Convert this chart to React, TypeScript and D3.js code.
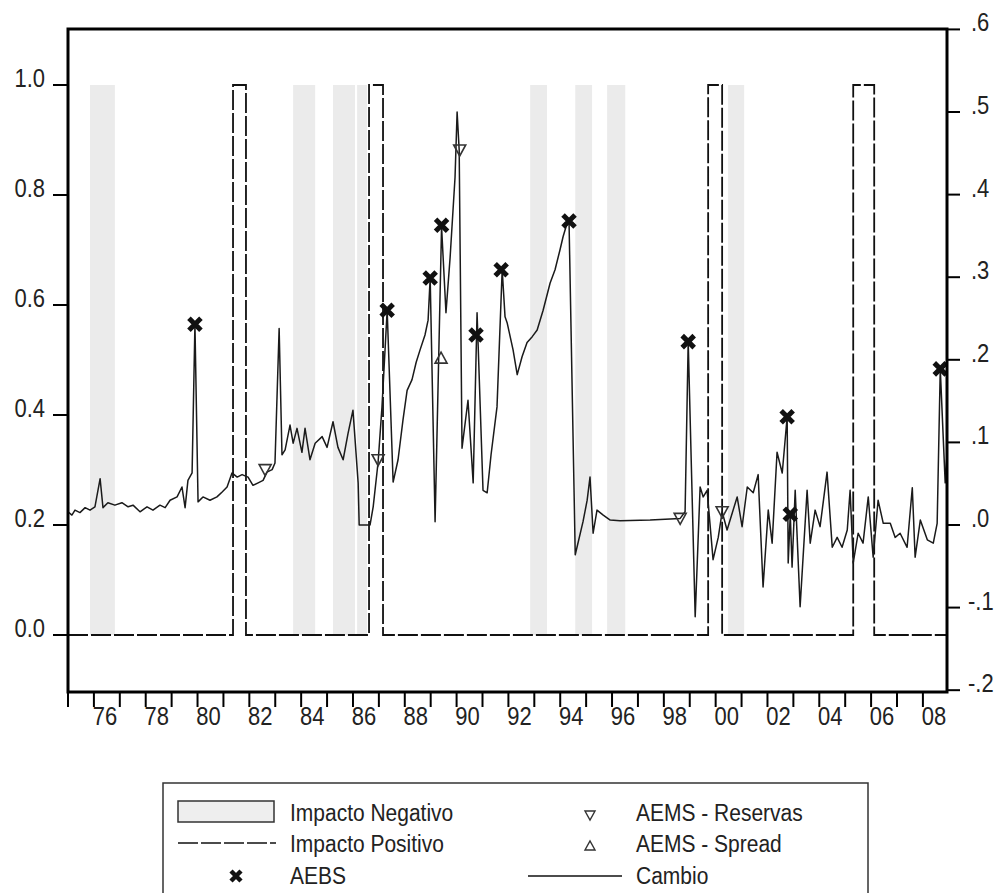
import React, {useEffect, useRef} from 'react';
import * as d3 from 'd3';

// Cambio (right axis): [year, value]
const cambio: [number, number][] = [
    [1975.00, 0.016], [1975.15, 0.012], [1975.27, 0.018], [1975.46, 0.015], [1975.66, 0.021], [1975.85, 0.018],
    [1976.04, 0.022], [1976.24, 0.056], [1976.35, 0.021], [1976.54, 0.027], [1976.81, 0.024], [1977.08, 0.027],
    [1977.32, 0.022], [1977.51, 0.024], [1977.78, 0.016], [1978.05, 0.022], [1978.28, 0.018], [1978.55, 0.024],
    [1978.75, 0.021], [1978.94, 0.030], [1979.21, 0.034], [1979.40, 0.046], [1979.52, 0.021], [1979.63, 0.054],
    [1979.79, 0.063], [1979.90, 0.243], [1980.02, 0.028], [1980.21, 0.034], [1980.48, 0.030], [1980.75, 0.034],
    [1980.95, 0.040], [1981.14, 0.046], [1981.33, 0.063], [1981.53, 0.058], [1981.72, 0.061], [1981.95, 0.058],
    [1982.14, 0.048], [1982.34, 0.051], [1982.53, 0.054], [1982.68, 0.064], [1982.88, 0.067], [1982.99, 0.075],
    [1983.15, 0.238], [1983.26, 0.085], [1983.38, 0.091], [1983.57, 0.121], [1983.69, 0.099], [1983.84, 0.117],
    [1984.03, 0.088], [1984.15, 0.117], [1984.34, 0.079], [1984.54, 0.099], [1984.81, 0.107], [1985.00, 0.094],
    [1985.23, 0.125], [1985.42, 0.094], [1985.62, 0.079], [1985.81, 0.111], [1986.00, 0.139], [1986.20, 0.051],
    [1986.24, 0.000], [1986.66, 0.000], [1986.78, 0.022], [1986.97, 0.076], [1987.12, 0.143], [1987.32, 0.260],
    [1987.55, 0.052], [1987.74, 0.079], [1987.93, 0.127], [1988.09, 0.163], [1988.28, 0.176], [1988.44, 0.197],
    [1988.59, 0.212], [1988.78, 0.230], [1988.90, 0.248], [1988.98, 0.299], [1989.17, 0.004], [1989.42, 0.361],
    [1989.59, 0.257], [1989.75, 0.324], [1989.94, 0.421], [1990.02, 0.500], [1990.10, 0.454], [1990.21, 0.093],
    [1990.44, 0.151], [1990.64, 0.051], [1990.79, 0.257], [1991.02, 0.042], [1991.18, 0.039], [1991.33, 0.085],
    [1991.56, 0.143], [1991.76, 0.309], [1991.87, 0.252], [1991.95, 0.245], [1992.18, 0.212], [1992.34, 0.182],
    [1992.53, 0.204], [1992.72, 0.221], [1992.92, 0.228], [1993.11, 0.236], [1993.34, 0.260], [1993.61, 0.293],
    [1993.80, 0.309], [1993.99, 0.333], [1994.11, 0.349], [1994.27, 0.366], [1994.34, 0.368], [1994.58, -0.036],
    [1994.88, 0.004], [1995.04, 0.030], [1995.15, 0.058], [1995.27, -0.010], [1995.42, 0.018], [1995.66, 0.012],
    [1995.93, 0.006], [1996.31, 0.005], [1997.47, 0.006], [1998.63, 0.008], [1998.82, 0.016], [1998.94, 0.222],
    [1999.21, -0.111], [1999.40, 0.046], [1999.52, 0.034], [1999.67, 0.042], [1999.90, -0.042], [2000.10, -0.015],
    [2000.25, 0.016], [2000.44, -0.006], [2000.83, 0.034], [2001.02, -0.002], [2001.22, 0.046], [2001.45, 0.039],
    [2001.64, 0.061], [2001.83, -0.075], [2002.03, 0.018], [2002.18, -0.022], [2002.37, 0.088], [2002.57, 0.063],
    [2002.76, 0.131], [2002.80, -0.046], [2002.88, 0.013], [2002.95, -0.051], [2003.07, 0.042], [2003.26, -0.099],
    [2003.53, 0.042], [2003.65, -0.022], [2003.84, 0.018], [2004.03, -0.002], [2004.15, 0.027], [2004.30, 0.064],
    [2004.50, -0.027], [2004.69, -0.015], [2004.88, -0.027], [2005.08, -0.006], [2005.19, 0.042], [2005.31, -0.046],
    [2005.50, -0.010], [2005.69, -0.022], [2005.89, 0.034], [2006.08, -0.039], [2006.27, 0.030], [2006.47, 0.002],
    [2006.74, 0.002], [2006.93, -0.015], [2007.12, -0.010], [2007.39, -0.027], [2007.59, 0.045], [2007.70, -0.039],
    [2007.90, 0.006], [2008.17, -0.018], [2008.40, -0.022], [2008.55, 0.002], [2008.67, 0.189], [2008.86, 0.051],
    [2008.92, 0.080]
];

// markers (right axis)
const aebs: [number, number][] = [
    [1979.90, 0.243], [1987.32, 0.260], [1988.98, 0.299], [1989.42, 0.363], [1990.75, 0.230], [1991.72, 0.309],
    [1994.34, 0.368], [1998.94, 0.222], [2002.76, 0.131], [2002.88, 0.013], [2008.67, 0.189]
];
const reservas: [number, number][] = [
    [1982.61, 0.067], [1986.97, 0.079], [1990.12, 0.454], [1998.63, 0.008], [2000.25, 0.016]
];
const spread: [number, number][] = [[1989.40, 0.202]];

// shaded periods (Impacto Negativo) and dummy = 1 periods (Impacto Positivo)
const negativo: [number, number][] = [
    [1975.85, 1976.81], [1983.69, 1984.54], [1985.23, 1986.08], [1986.16, 1986.54],
    [1992.84, 1993.49], [1994.58, 1995.23], [1995.81, 1996.51], [2000.48, 2001.10]
];
const positivo: [number, number][] = [
    [1981.37, 1981.87], [1986.62, 1987.16], [1999.71, 2000.25], [2005.31, 2006.12]
];

const leftTicks = [0, 0.2, 0.4, 0.6, 0.8, 1.0];
const rightTicks = [-0.2, -0.1, 0, 0.1, 0.2, 0.3, 0.4, 0.5, 0.6];
const START = 1975, END = 2008.93;

const FONT = '"Liberation Sans", Arial, sans-serif';

const Chart = () => {
    const ref = useRef<SVGSVGElement>(null);
    useEffect(() => {
        const svg = d3.select(ref.current);
        svg.selectAll("*").remove();

        const L = 68, R = 947, T = 29, B = 692;
        const x = d3.scaleLinear().domain([START, END]).range([L, R]);
        const yL = d3.scaleLinear().domain([-0.1036, 1.1018]).range([B, T]);
        const yR = d3.scaleLinear().domain([-0.2022, 0.6005]).range([B, T]);

        svg.append("rect").attr("width", 1002).attr("height", 893).attr("fill", "#fff");

        // shaded bands
        svg.append("g").selectAll("rect")
            .data(negativo)
            .enter().append("rect")
            .attr("x", d => x(d[0]))
            .attr("width", d => x(d[1]) - x(d[0]))
            .attr("y", yL(1))
            .attr("height", yL(0) - yL(1))
            .attr("fill", "#ebebeb");

        // Impacto Positivo step line
        const steps: [number, number][] = [[START, 0]];
        positivo.forEach(([a, b]) => {
            steps.push([a, 0], [a, 1], [b, 1], [b, 0]);
        });
        steps.push([END, 0]);
        svg.append("path")
            .attr("d", d3.line<[number, number]>().x(d => x(d[0])).y(d => yL(d[1]))(steps))
            .attr("fill", "none")
            .attr("stroke", "#111")
            .attr("stroke-width", 1.8)
            .attr("stroke-dasharray", "20,3");

        // Cambio line
        svg.append("path")
            .attr("d", d3.line<[number, number]>().x(d => x(d[0])).y(d => yR(d[1]))(cambio))
            .attr("fill", "none")
            .attr("stroke", "#1a1a1a")
            .attr("stroke-width", 1.5)
            .attr("stroke-linejoin", "round");

        // markers
        const cross = "M-6,-6L6,6M-6,6L6,-6";
        svg.append("g").selectAll("path")
            .data(aebs)
            .enter().append("path")
            .attr("transform", d => `translate(${x(d[0])},${yR(d[1])})`)
            .attr("d", cross)
            .attr("stroke", "#111")
            .attr("stroke-width", 5);
        svg.append("g").selectAll("path")
            .data(reservas)
            .enter().append("path")
            .attr("transform", d => `translate(${x(d[0])},${yR(d[1])})`)
            .attr("d", "M-6,-5L6,-5L0,6Z")
            .attr("fill", "none")
            .attr("stroke", "#333")
            .attr("stroke-width", 1.6);
        svg.append("g").selectAll("path")
            .data(spread)
            .enter().append("path")
            .attr("transform", d => `translate(${x(d[0])},${yR(d[1])})`)
            .attr("d", "M-6,5L6,5L0,-6Z")
            .attr("fill", "none")
            .attr("stroke", "#333")
            .attr("stroke-width", 1.6);

        // frame
        svg.append("rect")
            .attr("x", L).attr("y", T)
            .attr("width", R - L).attr("height", B - T)
            .attr("fill", "none")
            .attr("stroke", "#000")
            .attr("stroke-width", 3);

        const label = (g: any, tx: number, ty: number, s: string, anchor: string, size = 22) => {
            g.append("g")
                .attr("transform", `translate(${tx},${ty}) scale(1,1.15)`)
                .append("text")
                .attr("text-anchor", anchor)
                .attr("font-family", FONT)
                .attr("font-size", size)
                .attr("fill", "#222")
                .text(s);
        };

        // left axis
        const axL = svg.append("g");
        leftTicks.forEach(v => {
            axL.append("line").attr("x1", L - 15).attr("x2", L).attr("y1", yL(v)).attr("y2", yL(v))
                .attr("stroke", "#000").attr("stroke-width", 2);
            label(axL, 45, yL(v) + 2, d3.format(".1f")(v), "end");
        });

        // right axis
        const axR = svg.append("g");
        const fmtR = (v: number) => d3.format(".1f")(v).replace("0.", ".").replace("\u2212", "-");
        rightTicks.forEach(v => {
            axR.append("line").attr("x1", R).attr("x2", R + 13).attr("y1", yR(v)).attr("y2", yR(v))
                .attr("stroke", "#000").attr("stroke-width", 2);
            label(axR, v < 0 ? 968 : 971, yR(v) + 2, fmtR(Math.abs(v) < 1e-9 ? 0 : v), "start");
        });

        // bottom axis
        const axB = svg.append("g");
        d3.range(START, 2009).forEach(yr => {
            axB.append("line").attr("x1", x(yr)).attr("x2", x(yr)).attr("y1", B).attr("y2", B + 15)
                .attr("stroke", "#000").attr("stroke-width", 2);
            if (yr % 2 === 0) {
                label(axB, x(yr) + 11, 725, String(yr).slice(2), "middle");
            }
        });

        // legend
        const lg = svg.append("g");
        lg.append("rect").attr("x", 163).attr("y", 783).attr("width", 705).attr("height", 130)
            .attr("fill", "#fff").attr("stroke", "#333").attr("stroke-width", 1.5);
        lg.append("rect").attr("x", 178).attr("y", 801).attr("width", 96).attr("height", 21)
            .attr("fill", "#eee").attr("stroke", "#333").attr("stroke-width", 1.5);
        lg.append("line").attr("x1", 178).attr("x2", 276).attr("y1", 843).attr("y2", 843)
            .attr("stroke", "#111").attr("stroke-width", 1.5).attr("stroke-dasharray", "20,3");
        lg.append("path").attr("transform", "translate(236,876)").attr("d", "M-5,-5L5,5M-5,5L5,-5")
            .attr("stroke", "#111").attr("stroke-width", 4.5);
        lg.append("path").attr("transform", "translate(590,815)").attr("d", "M-5,-4L5,-4L0,5Z")
            .attr("fill", "none").attr("stroke", "#333").attr("stroke-width", 1.4);
        lg.append("path").attr("transform", "translate(590,846)").attr("d", "M-5,4L5,4L0,-5Z")
            .attr("fill", "none").attr("stroke", "#333").attr("stroke-width", 1.4);
        lg.append("line").attr("x1", 528).attr("x2", 622).attr("y1", 876).attr("y2", 876)
            .attr("stroke", "#111").attr("stroke-width", 1.5);
        label(lg, 290, 821, "Impacto Negativo", "start", 21);
        label(lg, 290, 852, "Impacto Positivo", "start", 21);
        label(lg, 290, 884, "AEBS", "start", 21);
        label(lg, 636, 821, "AEMS - Reservas", "start", 21);
        label(lg, 636, 852, "AEMS - Spread", "start", 21);
        label(lg, 636, 884, "Cambio", "start", 21);
    }, []);

    return (
        <svg ref={ref} width={1002} height={893} style={{position: 'absolute', left: 0, top: 0}}/>
    );
};

export default function App() {
    return <Chart/>;
}
